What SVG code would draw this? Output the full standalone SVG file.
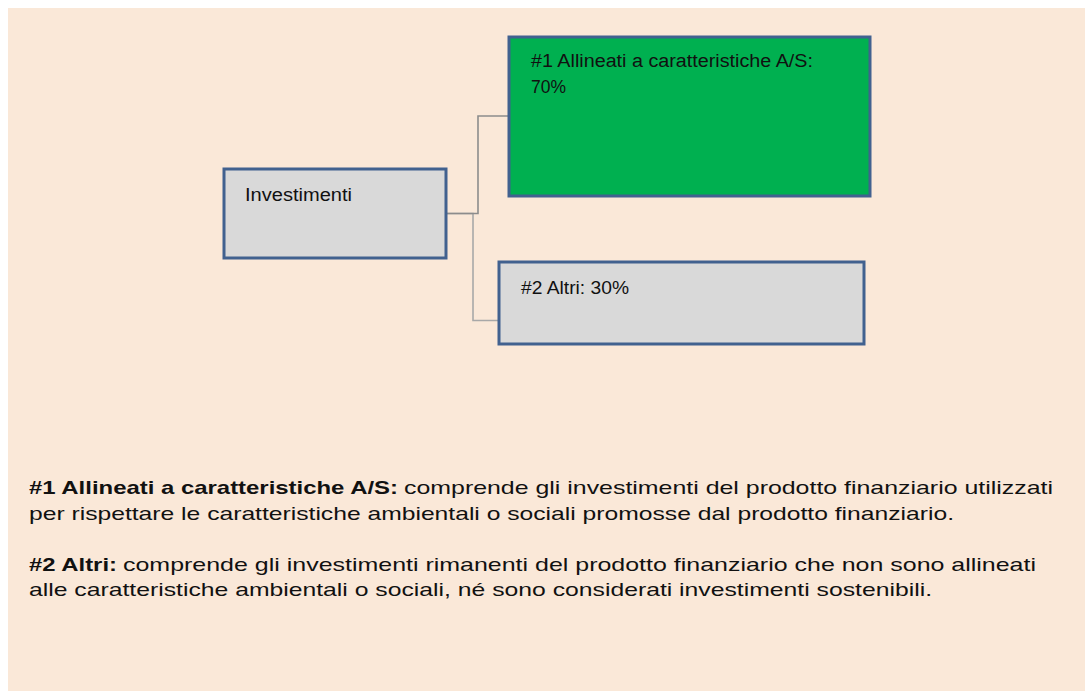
<svg xmlns="http://www.w3.org/2000/svg" width="1085" height="691" viewBox="0 0 1085 691">
<style>
.bg{fill:#FAE8D8}
.box{stroke:#41618F;stroke-width:3}
.gray{fill:#D9D9D9}
.green{fill:#00B050}
.lbl{font-family:"Liberation Sans",Arial,sans-serif;font-size:18px;fill:#111}
.txt{font-family:"Liberation Sans",Arial,sans-serif;font-size:19px;fill:#111}
.b{font-weight:bold}
.conn{fill:none;stroke-width:1.6}
</style>
<rect class="bg" x="8" y="8" width="1077" height="683"/>
<g id="connectors">
<polyline class="conn" stroke="#A8A8A8" points="447,213.5 473,213.5 473,320.5 498,320.5"/>
<polyline class="conn" stroke="#8C8C8C" points="447,213.5 478,213.5 478,116 508,116"/>
</g>
<g id="node-investimenti">
<rect class="box gray" x="224" y="169" width="222" height="89"/>
<text class="lbl" x="245" y="201" textLength="107" lengthAdjust="spacingAndGlyphs">Investimenti</text>
</g>
<g id="node-allineati">
<rect class="box green" x="509" y="37" width="361" height="159"/>
<text class="lbl" x="531" y="67" textLength="282" lengthAdjust="spacingAndGlyphs">#1 Allineati a caratteristiche A/S:</text>
<text class="lbl" x="531" y="93" textLength="35" lengthAdjust="spacingAndGlyphs">70%</text>
</g>
<g id="node-altri">
<rect class="box gray" x="499" y="262" width="365" height="82"/>
<text class="lbl" x="521" y="294" textLength="108" lengthAdjust="spacingAndGlyphs">#2 Altri: 30%</text>
</g>
<g id="legend">
<text class="txt b" x="29" y="494" textLength="369" lengthAdjust="spacingAndGlyphs">#1 Allineati a caratteristiche A/S:</text>
<text class="txt" x="404" y="494" textLength="649" lengthAdjust="spacingAndGlyphs">comprende gli investimenti del prodotto finanziario utilizzati</text>
<text class="txt" x="29" y="519.5" textLength="925" lengthAdjust="spacingAndGlyphs">per rispettare le caratteristiche ambientali o sociali promosse dal prodotto finanziario.</text>
<text class="txt b" x="29" y="571" textLength="88" lengthAdjust="spacingAndGlyphs">#2 Altri:</text>
<text class="txt" x="123" y="571" textLength="913" lengthAdjust="spacingAndGlyphs">comprende gli investimenti rimanenti del prodotto finanziario che non sono allineati</text>
<text class="txt" x="29" y="596" textLength="903" lengthAdjust="spacingAndGlyphs">alle caratteristiche ambientali o sociali, né sono considerati investimenti sostenibili.</text>
</g>
</svg>
